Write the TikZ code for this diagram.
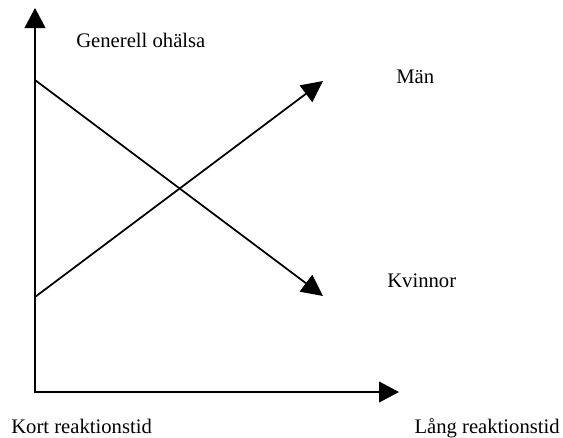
\documentclass[tikz,border=0pt]{standalone}
\usepackage{fontspec}
\setmainfont{Liberation Serif}
\usetikzlibrary{arrows.meta}

\begin{document}
\begin{tikzpicture}[x=0.75pt,y=-0.75pt, axis/.style = {line width=1.6pt,-{Triangle[length=15pt,width=15.5pt]}}, trend/.style = {line width=1.3pt,-{Triangle[length=16pt,width=15.5pt]}}, lbl/.style = {inner sep=0pt,font=\fontsize{15.5}{18}\selectfont}]
\useasboundingbox (0,0) rectangle (563,437);
\coordinate (o) at (35,392);
\coordinate (ytop) at (35,8);
\coordinate (xend) at (399,392);
\coordinate (mstart) at (35,297);
\coordinate (mend) at (323,81);
\coordinate (kstart) at (35,80);
\coordinate (kend) at (323,296);
\node[lbl,anchor=base west] (gen) at (76,47) {Generell ohälsa};
\node[lbl,anchor=base west] (man) at (396,83) {Män};
\node[lbl,anchor=base west] (kvi) at (387,287) {Kvinnor};
\node[lbl,anchor=base west] (kort) at (11,433) {Kort reaktionstid};
\node[lbl,anchor=base east] (lang) at (560,433) {Lång reaktionstid};
\draw[axis] (o) -- (ytop);
\draw[axis] ([xshift=-0.8pt]o) -- (xend);
\draw[trend] (mstart) -- (mend);
\draw[trend] (kstart) -- (kend);
\end{tikzpicture}
\end{document}
